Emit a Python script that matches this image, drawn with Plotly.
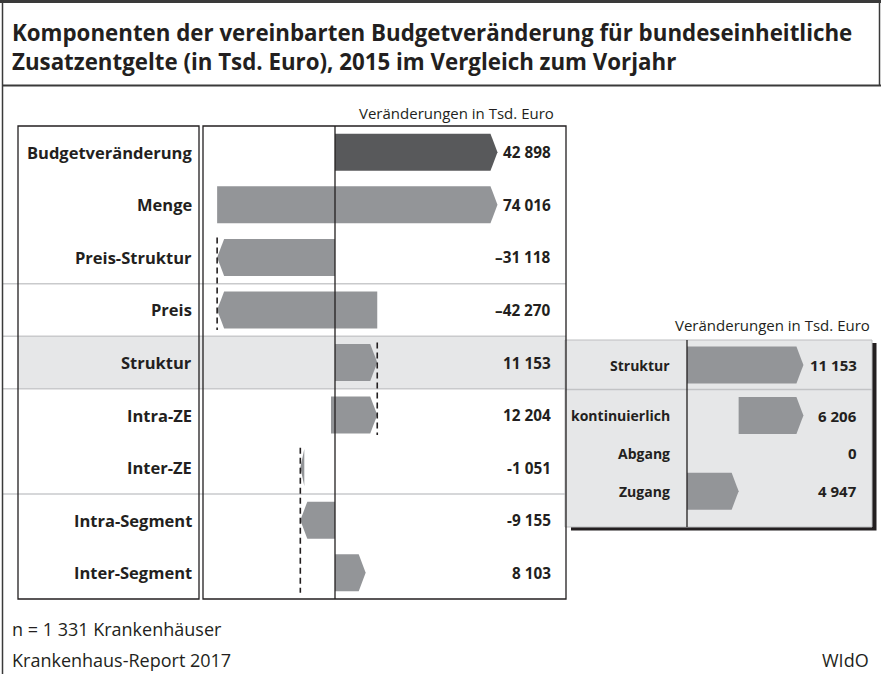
import plotly.graph_objects as go

# ---------------- data ----------------
main_labels = ["Budgetveränderung", "Menge", "Preis-Struktur", "Preis", "Struktur",
               "Intra-ZE", "Inter-ZE", "Intra-Segment", "Inter-Segment"]
main_values = [42898, 74016, -31118, -42270, 11153, 12204, -1051, -9155, 8103]
main_bases = [0, -31118, 0, 11153, 0, -1051, -8104, 0, 0]
main_value_text = ["42 898", "74 016", "–31 118", "–42 270", "11 153", "12 204",
                   "-1 051", "-9 155", "8 103"]

inset_labels = ["Struktur", "kontinuierlich", "Abgang", "Zugang"]
inset_values = [11153, 6206, 0, 4947]
inset_bases = [0, 4947, 0, 0]
inset_value_text = ["11 153", "6 206", "0", "4 947"]

title_text = ("Komponenten der vereinbarten Budgetveränderung für bundeseinheitliche<br>"
              "Zusatzentgelte (in Tsd. Euro), 2015 im Vergleich zum Vorjahr")
axis_title = "Veränderungen in Tsd. Euro"
note_text = "n = 1 331 Krankenhäuser"
source_text = "Krankenhaus-Report 2017"
brand_text = "WIdO"

# ---------------- styling ----------------
W, H = 881, 674
BAR = "#939598"
BAR_DARK = "#58595b"
SHADE = "#e6e7e8"
SEP = "#c9cacc"
FRAME = "#3a3a3a"
FONT = "Open Sans"


def px(x):
    return x / W


def py(y):
    return 1 - y / H


# main plot geometry (pixels)
PL, PR, PT, PB = 203, 566, 126, 599
ZERO_X = 335
UNITS_PER_PX = 264.0
x_range = [(PL - ZERO_X) * UNITS_PER_PX, (PR - ZERO_X) * UNITS_PER_PX]
n_rows = len(main_labels)
row_px = (PB - PT) / n_rows
half_h = 18.5 / row_px
tip_main = 7 * UNITS_PER_PX

# inset geometry
IL, IR, IT, IB = 565, 872, 340, 527
I_ZERO_X = 687
I_UNITS_PER_PX = 95.8
ix_range = [(IL - I_ZERO_X) * I_UNITS_PER_PX, (IR - I_ZERO_X) * I_UNITS_PER_PX]
I_ROW_PX = 50.5
I_FIRST = 365
inset_pos = [0, 1, 1.75, 2.5]
iy_range = [(IB - I_FIRST) / I_ROW_PX, (IT - I_FIRST) / I_ROW_PX]
i_half_h = 18.5 / I_ROW_PX
tip_inset = 7 * I_UNITS_PER_PX


def arrow(s, e, c, h, tip):
    if e == s:
        return None, None
    d = 1 if e > s else -1
    t = min(tip, abs(e - s))
    xs = [s, e - d * t, e, e - d * t, s, s]
    ys = [c - h, c - h, c, c + h, c + h, c - h]
    return xs, ys


fig = go.Figure()

# main arrows
for i, (b, v) in enumerate(zip(main_bases, main_values)):
    xs, ys = arrow(b, b + v, i, half_h, tip_main)
    fig.add_trace(go.Scatter(x=xs, y=ys, fill="toself", mode="lines",
                             line=dict(width=0, color=BAR_DARK if i == 0 else BAR),
                             fillcolor=BAR_DARK if i == 0 else BAR,
                             hoverinfo="skip", showlegend=False,
                             xaxis="x", yaxis="y"))

# inset arrows
for i, (b, v) in enumerate(zip(inset_bases, inset_values)):
    xs, ys = arrow(b, b + v, inset_pos[i], i_half_h, tip_inset)
    if xs is None:
        continue
    fig.add_trace(go.Scatter(x=xs, y=ys, fill="toself", mode="lines",
                             line=dict(width=0, color=BAR), fillcolor=BAR,
                             hoverinfo="skip", showlegend=False,
                             xaxis="x2", yaxis="y2"))

shapes = []
# outer frame
shapes.append(dict(type="line", xref="paper", yref="paper", x0=0, x1=1, y0=py(1.5), y1=py(1.5),
                   line=dict(color=FRAME, width=3)))
shapes.append(dict(type="line", xref="paper", yref="paper", x0=px(2.5), x1=px(2.5), y0=py(0), y1=py(674),
                   line=dict(color=FRAME, width=1.5)))
shapes.append(dict(type="line", xref="paper", yref="paper", x0=px(879.5), x1=px(879.5), y0=py(0), y1=py(86),
                   line=dict(color=FRAME, width=1.5)))
shapes.append(dict(type="line", xref="paper", yref="paper", x0=px(2), x1=1, y0=py(85.5), y1=py(85.5),
                   line=dict(color=FRAME, width=2)))

# Struktur row shading
r4_top = PT + 4 * row_px
r4_bot = PT + 5 * row_px
shapes.append(dict(type="rect", xref="paper", yref="paper", x0=px(18), x1=px(PR), y0=py(r4_top), y1=py(r4_bot),
                   fillcolor=SHADE, line=dict(width=0), layer="below"))
# separator lines
for r in [3, 4, 5, 7]:
    yy = PT + r * row_px
    shapes.append(dict(type="line", xref="paper", yref="paper", x0=px(3), x1=px(PR), y0=py(yy), y1=py(yy),
                       line=dict(color=SEP, width=1.5), layer="below"))

# inset shadow + background
shapes.append(dict(type="rect", xref="paper", yref="paper", x0=px(IL + 6), x1=px(IR + 4.5), y0=py(IT + 3), y1=py(IB + 3.5),
                   fillcolor="#231f20", line=dict(width=0), layer="below"))
shapes.append(dict(type="rect", xref="paper", yref="paper", x0=px(IL), x1=px(IR), y0=py(IT), y1=py(IB),
                   fillcolor=SHADE, line=dict(color="#bdbec0", width=1), layer="below"))
shapes.append(dict(type="line", xref="paper", yref="paper", x0=px(IL), x1=px(IR), y0=py(389.5), y1=py(389.5),
                   line=dict(color="#c2c3c5", width=1.5), layer="below"))
shapes.append(dict(type="line", xref="paper", yref="paper", x0=px(I_ZERO_X), x1=px(I_ZERO_X), y0=py(IT), y1=py(IB),
                   line=dict(color="#231f20", width=1.3)))

# label box and plot box
shapes.append(dict(type="rect", xref="paper", yref="paper", x0=px(18), x1=px(199), y0=py(PT), y1=py(PB),
                   line=dict(color="#231f20", width=1.3)))
shapes.append(dict(type="rect", xref="paper", yref="paper", x0=px(PL), x1=px(PR), y0=py(PT), y1=py(PB),
                   line=dict(color="#231f20", width=1.3)))
# zero line
shapes.append(dict(type="line", xref="x", yref="paper", x0=0, x1=0, y0=py(PT), y1=py(PB),
                   line=dict(color="#231f20", width=1.3)))

# dashed connectors (at cumulative values)
for xv, r0, r1 in [(main_values[2], 2, 3), (main_values[4], 4, 5), (main_values[7], 6, 8)]:
    shapes.append(dict(type="line", xref="x", yref="y", x0=xv, x1=xv, y0=r0 - 0.38, y1=r1 + 0.38,
                       line=dict(color="#231f20", width=1.6, dash="6px,4px")))

annotations = []
annotations.append(dict(text="<b>" + title_text + "</b>", xref="paper", yref="paper", x=px(10), y=py(15),
                        xanchor="left", yanchor="top", align="left", showarrow=False,
                        font=dict(family=FONT, size=22.3, color="#231f20")))
annotations.append(dict(text=axis_title, xref="paper", yref="paper", x=px(556), y=py(113),
                        xanchor="right", yanchor="middle", showarrow=False,
                        font=dict(family=FONT, size=15, color="#231f20")))
annotations.append(dict(text=axis_title, xref="paper", yref="paper", x=px(872), y=py(325),
                        xanchor="right", yanchor="middle", showarrow=False,
                        font=dict(family=FONT, size=15, color="#231f20")))
for i, lab in enumerate(main_labels):
    annotations.append(dict(text="<b>" + lab + "</b>", xref="paper", yref="y", x=px(194), y=i,
                            xanchor="right", yanchor="middle", showarrow=False,
                            font=dict(family=FONT, size=16.5, color="#231f20")))
    annotations.append(dict(text="<b>" + main_value_text[i] + "</b>", xref="paper", yref="y", x=px(553), y=i,
                            xanchor="right", yanchor="middle", showarrow=False,
                            font=dict(family=FONT, size=15.3, color="#231f20")))
for i, lab in enumerate(inset_labels):
    annotations.append(dict(text="<b>" + lab + "</b>", xref="paper", yref="y2", x=px(672), y=inset_pos[i],
                            xanchor="right", yanchor="middle", showarrow=False,
                            font=dict(family=FONT, size=14, color="#231f20")))
    annotations.append(dict(text="<b>" + inset_value_text[i] + "</b>", xref="paper", yref="y2", x=px(859), y=inset_pos[i],
                            xanchor="right", yanchor="middle", showarrow=False,
                            font=dict(family=FONT, size=15, color="#231f20")))
annotations.append(dict(text=note_text, xref="paper", yref="paper", x=px(10), y=py(629),
                        xanchor="left", yanchor="middle", showarrow=False,
                        font=dict(family=FONT, size=18, color="#231f20")))
annotations.append(dict(text=source_text, xref="paper", yref="paper", x=px(10), y=py(660),
                        xanchor="left", yanchor="middle", showarrow=False,
                        font=dict(family=FONT, size=18, color="#231f20")))
annotations.append(dict(text=brand_text, xref="paper", yref="paper", x=px(871), y=py(660),
                        xanchor="right", yanchor="middle", showarrow=False,
                        font=dict(family=FONT, size=18, color="#231f20")))

fig.update_layout(
    width=W, height=H, margin=dict(l=0, r=0, t=0, b=0),
    paper_bgcolor="white", plot_bgcolor="rgba(0,0,0,0)",
    showlegend=False,
    xaxis=dict(domain=[px(PL), px(PR)], range=x_range, visible=False, fixedrange=True),
    yaxis=dict(domain=[py(PB), py(PT)], range=[n_rows - 0.5, -0.5], visible=False, fixedrange=True),
    xaxis2=dict(domain=[px(IL), px(IR)], range=ix_range, visible=False, fixedrange=True, anchor="y2"),
    yaxis2=dict(domain=[py(IB), py(IT)], range=iy_range, visible=False, fixedrange=True, anchor="x2"),
    shapes=shapes, annotations=annotations,
)

fig.write_html("out.html", config={"displayModeBar": False},
               post_script="document.body.style.margin='0';document.body.style.overflow='hidden';")
